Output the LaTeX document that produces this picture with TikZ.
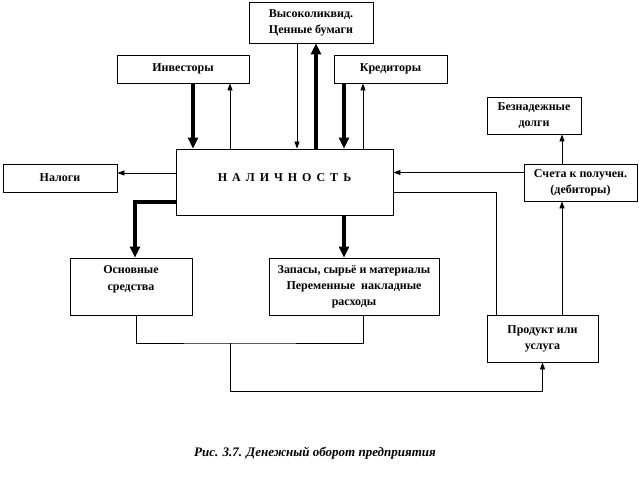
\documentclass[tikz,border=0pt]{standalone}
\usepackage{fontspec}
\setmainfont{Liberation Serif}
\usetikzlibrary{arrows.meta}
\begin{document}
\begin{tikzpicture}[x=1pt,y=-1pt,
  box/.style={draw,line width=0.8pt,align=center,font=\fontsize{12}{16}\selectfont\bfseries},
  thn/.style={line width=0.8pt},
  thk/.style={line width=3.5pt},
  tip/.style={thn,-{Triangle[length=7pt,width=5pt]}},
  bigtip/.style={thk,-{Triangle[length=11pt,width=10pt]}}]

  \useasboundingbox (0,0) rectangle (639,489);

  \node[box,minimum width=124,minimum height=41] (sec) at (311,22.5) {Высоколиквид.\\Ценные бумаги};
  \node[box,minimum width=132,minimum height=28] (inv) at (183,69) {Инвесторы};
  \node[box,minimum width=113,minimum height=28] (cred) at (390.5,69) {Кредиторы};

  \node[box,minimum width=217,minimum height=66,text depth=9pt] (cash) at (284.5,182) {Н\,\ А\,\ Л\,\ И\,\ Ч\,\ Н\,\ О\,\ С\,\ Т\,\ Ь};
  \node[box,minimum width=114,minimum height=28] (tax) at (60,178) {Налоги};

  \node[box,minimum width=94,minimum height=37] (debt) at (534,115.5) {Безнадежные\\долги};
  \node[box,minimum width=113,minimum height=37] (recv) at (580.5,182.5) {Счета к получен.\\(дебиторы)};

  \node[box,minimum width=122,minimum height=57] (fixed) at (131,286.5) {};
  \node[font=\fontsize{12}{17}\selectfont\bfseries,align=center] (fixedtxt) at (131,279) {Основные\\средства};
  \node[box,minimum width=170,minimum height=57] (stock) at (354,286.5) {Запасы, сырьё и материалы\\Переменные~~накладные\\расходы};
  \node[box,minimum width=111,minimum height=47] (prod) at (542.5,338.5) {Продукт или\\услуга};

  \coordinate (join) at (230,343);

  % sources above
  \draw[bigtip] ([xshift=10pt]inv.south) -- ([xshift=10pt]inv.south |- cash.north);
  \draw[tip] ([xshift=47pt]inv.south |- cash.north) -- ([xshift=47pt]inv.south);
  \draw[tip] ([xshift=-14pt]sec.south) -- ([xshift=-14pt]sec.south |- cash.north);
  \draw[bigtip] ([xshift=5pt]sec.south |- cash.north) -- ([xshift=5pt]sec.south);
  \draw[bigtip] ([xshift=-46.5pt]cred.south) -- ([xshift=-46.5pt]cred.south |- cash.north);
  \draw[tip] ([xshift=-27.5pt]cred.south |- cash.north) -- ([xshift=-27.5pt]cred.south);

  \draw[tip] ([yshift=9pt]cash.west) -- ([yshift=9pt]cash.west -| tax.east);

  % outflows
  \draw[bigtip] ([yshift=-20pt]cash.west) -| ([xshift=4pt]fixed.north);
  \draw[bigtip] ([xshift=-10pt]stock.north |- cash.south) -- ([xshift=-10pt]stock.north);

  \draw[thn] ([xshift=5pt]fixed.south) |- (join) -| ([xshift=9pt]stock.south);
  \draw[tip] (join) -- ++(0,48) -| (prod.south);

  \draw[thn] ([yshift=-10pt]cash.east) -| ([xshift=-46.5pt]prod.north);
  \draw[tip] ([xshift=-18.5pt]recv.south |- prod.north) -- ([xshift=-18.5pt]recv.south);
  \draw[tip] ([xshift=-18.5pt]recv.north) -- ([xshift=-18.5pt]recv.north |- debt.south);
  \draw[tip] ([yshift=10pt]recv.west) -- ([yshift=10pt]recv.west -| cash.east);

  \node[font=\fontsize{13}{15}\selectfont\bfseries\itshape] (caption) at (315,453) {Рис. 3.7. Денежный оборот предприятия};

\end{tikzpicture}
\end{document}
